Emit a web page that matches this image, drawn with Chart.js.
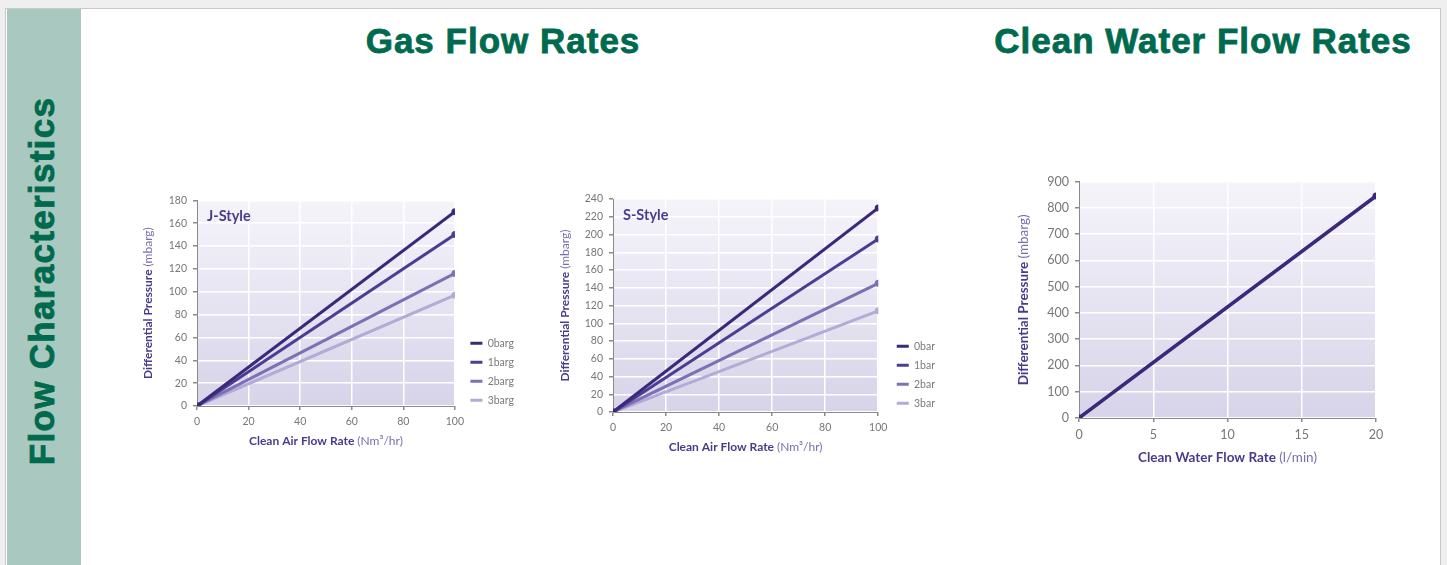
<!DOCTYPE html>
<html>
<head>
<meta charset="utf-8">
<title>Flow Characteristics</title>
<script src="https://cdn.jsdelivr.net/npm/chart.js@4.4.0/dist/chart.umd.min.js"></script>
<style>
  body { margin: 0; background: #efefef; width: 1447px; height: 565px; overflow: hidden; position: relative; font-family: "Liberation Sans", Arial, sans-serif; }
  #panel { position: absolute; left: 5px; top: 8px; width: 1434px; height: 570px; background: #fff; border: 1px solid #c9c9c9; }
  #side { position: absolute; left: 7px; top: 9px; width: 74px; height: 570px; background: #a9c8bf; }
  #side span { position: absolute; left: 35px; top: 272px; transform: translate(-50%, -50%) rotate(-90deg); white-space: nowrap; color: #006a4e; font-weight: bold; font-size: 35px; letter-spacing: 1.3px; -webkit-text-stroke: 0.8px #006a4e; }
  .head { position: absolute; top: 21px; color: #006a4e; font-weight: bold; font-size: 35px; letter-spacing: 1px; -webkit-text-stroke: 0.8px #006a4e; white-space: nowrap; transform: translateX(-50%); }
  .box { position: absolute; }
</style>
</head>
<body>
<div id="panel"></div>
<div id="side"><span>Flow Characteristics</span></div>
<div class="head" style="left:503px">Gas Flow Rates</div>
<div class="head" style="left:1203px">Clean Water Flow Rates</div>

<div class="box" style="left:135px;top:188px;width:400px;height:272px"><canvas id="jChart"></canvas></div>
<div class="box" style="left:550px;top:186px;width:420px;height:280px"><canvas id="sChart"></canvas></div>
<div class="box" style="left:1005px;top:168px;width:420px;height:302px"><canvas id="wChart"></canvas></div>

<script>
// data
var airFlow = [0, 100];
var jLabels = ['0barg', '1barg', '2barg', '3barg'];
var jDp0 = [0, 170];
var jDp1 = [0, 150];
var jDp2 = [0, 116];
var jDp3 = [0, 97];

var sLabels = ['0bar', '1bar', '2bar', '3bar'];
var sDp0 = [0, 230];
var sDp1 = [0, 195];
var sDp2 = [0, 145];
var sDp3 = [0, 114];

var waterFlow = [0, 20];
var wDp = [0, 845];

var lineColors = ['#3b2878', '#4d3c93', '#7d70b4', '#b3abd6'];
var font = 'Lato, "DejaVu Sans", sans-serif';

function pts(xs, ys) {
  return xs.map(function (x, i) { return { x: x, y: ys[i] }; });
}

function makeSet(label, xs, ys, color, w) {
  return {
    label: label,
    data: pts(xs, ys),
    borderColor: color,
    backgroundColor: color,
    borderWidth: w,
    pointRadius: 3.5,
    pointHoverRadius: 3.5,
    pointBorderWidth: 0,
    fill: false
  };
}

// plot background gradient + style label + axis titles with mixed weight
var decor = {
  id: 'decor',
  afterUpdate: function (chart) {
    // nudge the legend a bit further from the plot, like the original
    var o = chart.options.plugins.decor, lg = chart.legend;
    if (lg && o.legendShift) {
      lg.left += o.legendShift[0]; lg.right += o.legendShift[0];
      lg.top += o.legendShift[1]; lg.bottom += o.legendShift[1];
    }
  },
  beforeDraw: function (chart) {
    var a = chart.chartArea, c = chart.ctx;
    var g = c.createLinearGradient(a.left, a.top, a.left, a.bottom);
    g.addColorStop(0, '#f5f4fa');
    g.addColorStop(1, '#d7d3e9');
    c.save();
    c.fillStyle = g;
    c.fillRect(a.left, a.top, a.right - a.left, a.bottom - a.top);
    c.restore();
  },
  afterDraw: function (chart) {
    var o = chart.options.plugins.decor, a = chart.chartArea, c = chart.ctx;
    var fs = o.titleSize;
    c.save();
    c.fillStyle = '#4a3a8c';
    if (o.tag) {
      c.font = 'bold 14.5px ' + font;
      c.textBaseline = 'middle';
      c.fillText(o.tag, a.left + 10, a.top + 16);
    }
    function mixed(bold, normal, cx, cy) {
      c.font = 'bold ' + fs + 'px ' + font;
      var w1 = c.measureText(bold + ' ').width;
      c.font = fs + 'px ' + font;
      var w2 = c.measureText(normal).width;
      var x0 = cx - (w1 + w2) / 2;
      c.textBaseline = 'middle';
      c.font = 'bold ' + fs + 'px ' + font;
      c.fillStyle = '#4a3a8c';
      c.fillText(bold + ' ', x0, cy);
      c.font = fs + 'px ' + font;
      c.fillStyle = '#7a6fae';
      c.fillText(normal, x0 + w1, cy);
    }
    mixed(o.xTitle[0], o.xTitle[1], (a.left + a.right) / 2, a.bottom + o.xGap);
    c.translate(a.left - o.yGap, (a.top + a.bottom) / 2);
    c.rotate(-Math.PI / 2);
    mixed('Differential Pressure', '(mbarg)', 0, 0);
    c.restore();
  }
};

function makeChart(id, sets, xMax, xStep, yMax, yStep, d) {
  return new Chart(document.getElementById(id), {
    type: 'line',
    data: { datasets: sets },
    plugins: [decor],
    options: {
      responsive: true,
      maintainAspectRatio: false,
      animation: false,
      layout: { padding: d.pad },
      plugins: {
        legend: {
          display: d.legend,
          position: 'right',
          align: 'end',
          fullSize: false,
          labels: {
            boxWidth: 12, boxHeight: 3, padding: 8.5, color: '#7a7a7a',
            font: { family: font, size: 10.5 },
            generateLabels: function (chart) {
              return Chart.defaults.plugins.legend.labels.generateLabels(chart).map(function (l) {
                l.lineWidth = 0;
                return l;
              });
            }
          }
        },
        tooltip: { enabled: false },
        decor: d
      },
      scales: {
        x: {
          type: 'linear', min: 0, max: xMax,
          ticks: { stepSize: xStep, color: '#777777', font: { family: font, size: d.tickSize }, padding: 5 },
          grid: { color: '#ffffff', lineWidth: 1.5, tickLength: 4, tickColor: '#8a8a8a' },
          border: { color: '#8a8a8a', width: 1 },
          afterFit: function (s) { s.height = d.xH; }
        },
        y: {
          min: 0, max: yMax,
          ticks: { stepSize: yStep, color: '#777777', font: { family: font, size: d.tickSize }, padding: 6 },
          grid: { color: '#ffffff', lineWidth: 1.5, tickLength: 4, tickColor: '#8a8a8a' },
          border: { color: '#8a8a8a', width: 1 },
          afterFit: function (s) { s.width = d.yW; }
        }
      }
    }
  });
}

makeChart('jChart', [
  makeSet(jLabels[0], airFlow, jDp0, lineColors[0], 3),
  makeSet(jLabels[1], airFlow, jDp1, lineColors[1], 3),
  makeSet(jLabels[2], airFlow, jDp2, lineColors[2], 3),
  makeSet(jLabels[3], airFlow, jDp3, lineColors[3], 3)
], 100, 20, 180, 20, {
  tag: 'J-Style', legend: true, xTitle: ['Clean Air Flow Rate', '(Nm\u00b3/hr)'],
  titleSize: 12, tickSize: 10.5, legendShift: [7, 8],
  xGap: 35, yGap: 49, yW: 62, xH: 54, pad: { top: 12, right: 18, left: 0, bottom: 0 }
});

makeChart('sChart', [
  makeSet(sLabels[0], airFlow, sDp0, lineColors[0], 3),
  makeSet(sLabels[1], airFlow, sDp1, lineColors[1], 3),
  makeSet(sLabels[2], airFlow, sDp2, lineColors[2], 3),
  makeSet(sLabels[3], airFlow, sDp3, lineColors[3], 3)
], 100, 20, 240, 20, {
  tag: 'S-Style', legend: true, xTitle: ['Clean Air Flow Rate', '(Nm\u00b3/hr)'],
  titleSize: 12, tickSize: 10.5, legendShift: [10, 5],
  xGap: 35, yGap: 48, yW: 63, xH: 54, pad: { top: 13, right: 35, left: 0, bottom: 0 }
});

makeChart('wChart', [
  makeSet('0bar', waterFlow, wDp, lineColors[0], 3.5)
], 20, 5, 900, 100, {
  tag: '', legend: false, xTitle: ['Clean Water Flow Rate', '(l/min)'],
  titleSize: 13.5, tickSize: 12.5,
  xGap: 40, yGap: 55, yW: 74, xH: 52, pad: { top: 12, right: 49, left: 0, bottom: 0 }
});
</script>
</body>
</html>
